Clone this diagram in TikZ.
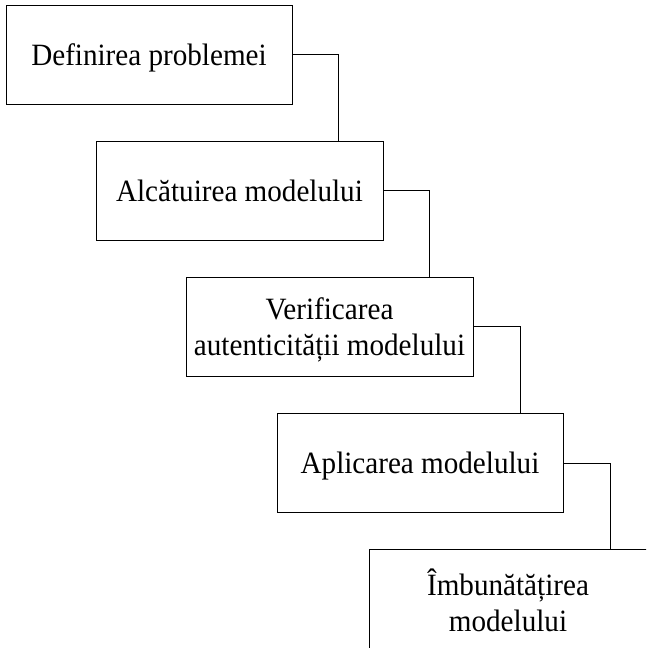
\documentclass[tikz,border=0pt]{standalone}
\usepackage{fontspec}
\setmainfont{Liberation Serif}[FakeStretch=0.94]
\begin{document}
\begin{tikzpicture}[x=1pt,y=1pt,
  stagebox/.style={draw, line width=0.9pt, minimum width=286pt, minimum height=99pt,
    inner sep=0pt, text depth=0pt, align=center, font=\fontsize{31}{36}\selectfont},
  link/.style={draw, line width=0.9pt}]
\useasboundingbox (0,0) rectangle (647,-648);
\begin{scope}
\clip (0,0) rectangle (646,-648);
\node[stagebox] (b1) at (149,-54.5) {Definirea problemei};
\node[stagebox, minimum width=287pt] (b2) at (239.5,-190.5) {Alcătuirea modelului};
\node[stagebox, minimum width=287pt] (b3) at (329.5,-326.5) {Verificarea\\autenticității modelului};
\node[stagebox] (b4) at (420,-463) {Aplicarea modelului};
\node[stagebox, minimum width=278pt, minimum height=102pt] (b5) at (508,-600) {Îmbunătățirea\\modelului};
\path[link] (b1.east) -| ([xshift=46pt]b1.east |- b2.north);
\path[link] (b2.east) -| ([xshift=46pt]b2.east |- b3.north);
\path[link] (b3.east) -| ([xshift=47pt]b3.east |- b4.north);
\path[link] (b4.east) -| ([xshift=47pt]b4.east |- b5.north);
\end{scope}
\end{tikzpicture}
\end{document}
